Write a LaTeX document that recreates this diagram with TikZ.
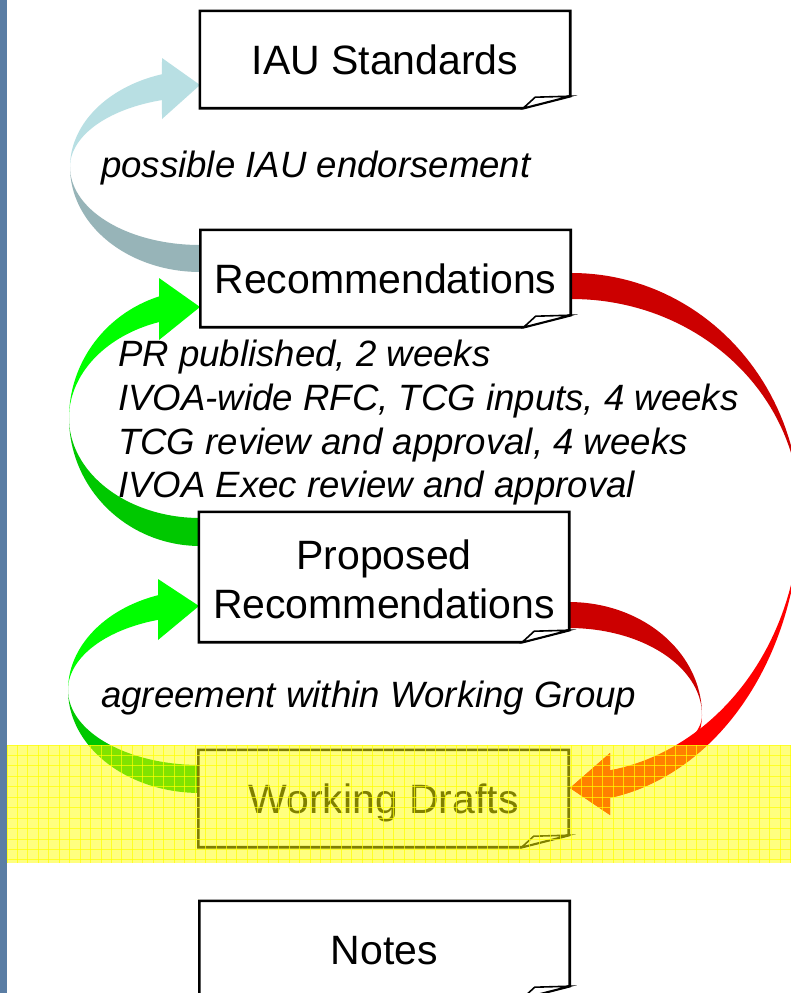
\documentclass[tikz,border=0pt]{standalone}
\usepackage{fontspec}
\setmainfont{Liberation Sans}
\definecolor{stripblue}{HTML}{5A7DA4}
\definecolor{iaudark}{HTML}{97B4B8}
\definecolor{iaulight}{HTML}{B8DFE3}
\definecolor{gdark}{HTML}{00C800}
\definecolor{glight}{HTML}{00FF00}
\definecolor{rdark}{HTML}{CC0000}
\definecolor{rlight}{HTML}{FF0000}
\definecolor{bandyellow}{HTML}{FFFF00}
\tikzset{
  notebox/.style={minimum width=370pt, minimum height=97pt, inner sep=0pt, fill=white,
    font=\fontsize{41}{49}\selectfont, text height=29.3pt, text depth=0pt},
  annot/.style={inner sep=0pt, anchor=base west, font=\fontsize{36.6}{44}\selectfont\itshape},
  boxline/.style={line width=2.6pt, line join=miter, draw=black},
  gridline/.style={draw=bandyellow, line width=1pt, opacity=0.7},
}
\newcommand{\drawfoldbox}[1]{%
  \draw[boxline] (#1.north west) -- (#1.north east) -- ([yshift=12pt]#1.south east)
    -- ([xshift=-47pt]#1.south east) -- (#1.south west) -- cycle;
  \filldraw[boxline, fill=white, line width=1.6pt] ([xshift=-47pt]#1.south east)
    -- ([xshift=-35pt,yshift=11pt]#1.south east) -- ([yshift=12pt]#1.south east) -- cycle;
}
\begin{document}
\begin{tikzpicture}[x=1pt,y=-1pt]
\useasboundingbox (0,0) rectangle (791,993);
\clip (0,0) rectangle (791,993);
\fill[white] (0,0) rectangle (791,993);

% IAU endorsement arrow
\fill[iaudark] plot[domain=90:180,samples=40,variable=\t] ({200+130*cos(\t)},{167+105*sin(\t)})
  -- plot[domain=180:90,samples=40,variable=\t] ({200+130*cos(\t)},{167+78*sin(\t)}) -- cycle;
\fill[iaulight] plot[domain=180:253,samples=40,variable=\t] ({200+130*cos(\t)},{167+97*sin(\t)})
  -- (162,58) -- (200,85) -- (162,119)
  -- plot[domain=253:180,samples=40,variable=\t] ({200+130*cos(\t)},{167+70*sin(\t)}) -- cycle;

% green arrow: Proposed -> Recommendations
\fill[gdark] plot[domain=90:180,samples=40,variable=\t] ({200+131*cos(\t)},{418+128*sin(\t)})
  -- plot[domain=180:90,samples=40,variable=\t] ({200+131*cos(\t)},{418+100*sin(\t)}) -- cycle;
\fill[glight] plot[domain=180:251.8,samples=40,variable=\t] ({200+131*cos(\t)},{418+128*sin(\t)})
  -- (159,278) -- (200,307) -- (159,340)
  -- plot[domain=251.8:180,samples=40,variable=\t] ({200+131*cos(\t)},{418+101*sin(\t)}) -- cycle;

% green arrow: Working Drafts -> Proposed
\fill[gdark] plot[domain=90:180,samples=40,variable=\t] ({200+132*cos(\t)},{690+103*sin(\t)})
  -- plot[domain=180:90,samples=40,variable=\t] ({200+132*cos(\t)},{690+75*sin(\t)}) -- cycle;
\fill[glight] plot[domain=180:251.45,samples=40,variable=\t] ({200+132*cos(\t)},{690+100*sin(\t)})
  -- (158,579) -- (199,606) -- (158,640)
  -- plot[domain=251.45:180,samples=40,variable=\t] ({200+132*cos(\t)},{690+74*sin(\t)}) -- cycle;

% red arrow: Proposed -> Working Drafts
\fill[rdark] plot[domain=270:360,samples=40,variable=\t] ({569+133*cos(\t)},{715+113*sin(\t)})
  -- plot[domain=360:270,samples=40,variable=\t] ({569+133*cos(\t)},{715+87*sin(\t)}) -- cycle;
\fill[rlight] plot[domain=0:72,samples=40,variable=\t] ({569+133*cos(\t)},{715+87*sin(\t)})
  -- (610,815) -- (570,788) -- (610,753)
  -- plot[domain=72:0,samples=40,variable=\t] ({569+133*cos(\t)},{715+58*sin(\t)}) -- cycle;

% red arrow: Recommendations -> Working Drafts
\fill[rdark] plot[domain=270:360,samples=50,variable=\t] ({572+228*cos(\t)},{512+239*sin(\t)})
  -- plot[domain=360:270,samples=50,variable=\t] ({572+228*cos(\t)},{512+213*sin(\t)}) -- cycle;
\fill[rlight] plot[domain=0:80.4,samples=50,variable=\t] ({572+228*cos(\t)},{512+290*sin(\t)})
  -- (610,815) -- (570,788) -- (610,753)
  -- plot[domain=80.4:0,samples=50,variable=\t] ({572+228*cos(\t)},{512+262*sin(\t)}) -- cycle;

% boxes
\node[notebox] (iau) at (385,59.5) {IAU Standards};
\node[notebox] (rec) at (385.5,278.5) {Recommendations};
\node[notebox, minimum height=130pt, text height=33pt, text depth=49pt] (prop) at (384,577)
  {\begin{tabular}[t]{@{}c@{}}Proposed\\Recommendations\end{tabular}};
\node[notebox] (wd) at (383.5,798.5) {Working Drafts};
\node[notebox] (notes) at (384.5,949.5) {Notes};
\drawfoldbox{iau}
\drawfoldbox{rec}
\drawfoldbox{prop}
\drawfoldbox{wd}
\drawfoldbox{notes}

% labels
\node[annot] (endorse) at (101,177) {possible IAU endorsement};
\node[annot] (pr1) at (118,366) {PR published, 2 weeks};
\node[annot] (pr2) at (118,410) {IVOA-wide RFC, TCG inputs, 4 weeks};
\node[annot] (pr3) at (118,454) {TCG review and approval, 4 weeks};
\node[annot] (pr4) at (118,497) {IVOA Exec review and approval};
\node[annot] (wg) at (101,707) {agreement within Working Group};

% highlight band
\fill[bandyellow, opacity=0.5] (7,745) rectangle (791,863);
\foreach \i in {0,...,75} { \draw[gridline] ({7+\i*10.45},745) -- ({7+\i*10.45},863); }
\foreach \j in {0,...,11} { \draw[gridline] (7,{745+\j*10.45}) -- (791,{745+\j*10.45}); }

% left strip
\fill[stripblue] (0,0) rectangle (7,993);
\end{tikzpicture}
\end{document}
